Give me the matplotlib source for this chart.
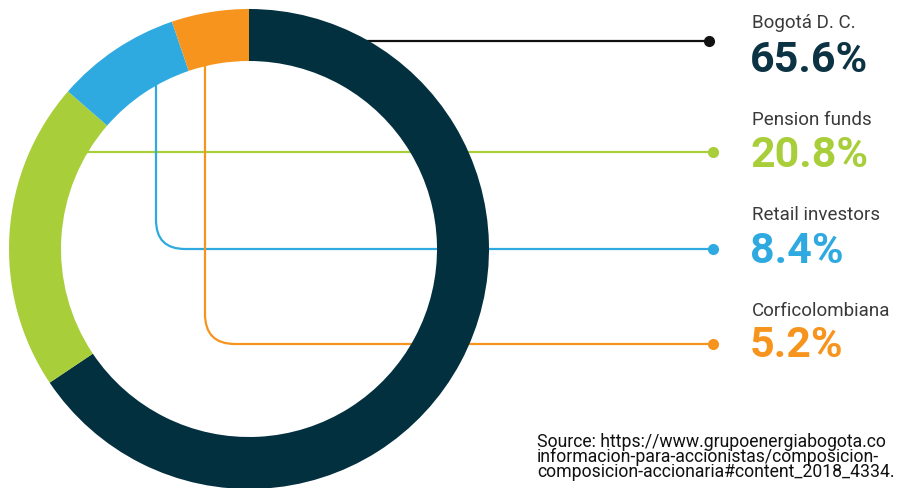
import numpy as np
import matplotlib.pyplot as plt
from matplotlib.path import Path
from matplotlib.patches import PathPatch

# données
labels = ['Bogotá D. C.', 'Pension funds', 'Retail investors', 'Corficolombiana']
shares = [65.6, 20.8, 8.4, 5.2]
colors = ['#03303f', '#a8ce3a', '#2eaae1', '#f7941d']
value_colors = ['#0c3344', '#a8ce3a', '#2eaae1', '#f7941d']
line_colors = ['#111111', '#a8ce3a', '#2eaae1', '#f7941d']
source_lines = ['Source: https://www.grupoenergiabogota.co',
                'informacion-para-accionistas/composicion-',
                'composicion-accionaria#content_2018_4334.']

W, H = 910, 489

def Y(y):
    # coordonnées en pixels, origine en haut
    return H - y

fig = plt.figure(figsize=(W / 100, H / 100), dpi=100)
ax = fig.add_axes([0, 0, 1, 1])

ax.pie(shares, colors=colors, startangle=90, counterclock=False,
       radius=240, center=(249, Y(250)),
       wedgeprops=dict(width=52, linewidth=0), frame=False)

# lignes de rappel
ax.plot([300, 709], [Y(42), Y(42)], color=line_colors[0], lw=1.6, zorder=0)
ax.plot([40, 713], [Y(153), Y(153)], color=line_colors[1], lw=1.6, zorder=0)

def elbow(x, y0, y1, x_end, r, color):
    verts = [(x, Y(y0)), (x, Y(y1 - r)), (x, Y(y1)), (x + r, Y(y1)), (x_end, Y(y1))]
    codes = [Path.MOVETO, Path.LINETO, Path.CURVE3, Path.CURVE3, Path.LINETO]
    ax.add_patch(PathPatch(Path(verts, codes), fill=False, edgecolor=color,
                           lw=1.6, zorder=0, capstyle='butt'))

elbow(156, 60, 250, 713, 29, line_colors[2])
elbow(205, 40, 345, 713, 30, line_colors[3])

dot_pos = [(709, 42), (713, 153), (713, 250), (713, 345)]
for (dx, dy), c in zip(dot_pos, line_colors):
    ax.plot(dx, Y(dy), 'o', ms=7, color=c, zorder=3)

# textes
label_base = [28, 125, 220, 316]
value_base = [72, 167, 263, 357]
for lab, val, lb, vb, vc in zip(labels, shares, label_base, value_base, value_colors):
    ax.text(752, Y(lb), lab, fontsize=13.5, family='Roboto', weight='normal',
            color='#3a3a3a', va='baseline', ha='left')
    ax.text(750, Y(vb), f'{val}%', fontsize=31, family='Roboto', weight='bold',
            color=vc, va='baseline', ha='left')

# source (un seul bloc, interligne serré)
ax.text(537, Y(477), '\n'.join(source_lines), fontsize=12.7, family='Roboto',
        color='#111111', va='baseline', ha='left', linespacing=0.8)

ax.set_xlim(0, W)
ax.set_ylim(0, H)
ax.set_aspect('equal')
ax.axis('off')

fig.savefig('out.png', dpi=100)
